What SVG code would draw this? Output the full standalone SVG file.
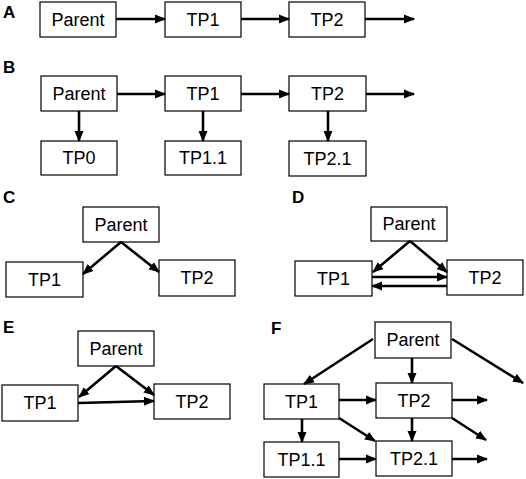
<svg xmlns="http://www.w3.org/2000/svg" width="526" height="479" viewBox="0 0 526 479">
<style>
.box{fill:#fff;stroke:#000;stroke-width:1.2}
.t{font-family:"Liberation Sans",Arial,sans-serif;font-size:18px;fill:#000;text-anchor:middle}
.lbl{font-family:"Liberation Sans",Arial,sans-serif;font-size:17px;font-weight:bold;fill:#000}
.c{stroke:#000;stroke-width:2.6;fill:none;marker-end:url(#ah)}
</style>
<defs>
<marker id="ah" markerUnits="userSpaceOnUse" markerWidth="11" markerHeight="10" refX="10" refY="5" orient="auto">
<path d="M0,0.5 L11,5 L0,9.5 z" fill="#000"/>
</marker>
</defs>
<rect width="526" height="479" fill="#fff"/>
<g id="labels">
<text class="lbl" x="3" y="18">A</text>
<text class="lbl" x="3" y="73">B</text>
<text class="lbl" x="3" y="203">C</text>
<text class="lbl" x="292" y="203">D</text>
<text class="lbl" x="3" y="333">E</text>
<text class="lbl" x="271" y="334">F</text>
</g>
<!-- Panel A -->
<g id="A-parent"><rect class="box" x="40" y="2" width="76" height="35"/><text class="t" x="78" y="26">Parent</text></g>
<g id="A-tp1"><rect class="box" x="165" y="2" width="76" height="35"/><text class="t" x="203" y="26">TP1</text></g>
<g id="A-tp2"><rect class="box" x="289" y="2" width="76" height="35"/><text class="t" x="327" y="26">TP2</text></g>
<!-- Panel B -->
<g id="B-parent"><rect class="box" x="41" y="76" width="76" height="35"/><text class="t" x="79" y="100">Parent</text></g>
<g id="B-tp1"><rect class="box" x="165" y="76" width="76" height="35"/><text class="t" x="203" y="100">TP1</text></g>
<g id="B-tp2"><rect class="box" x="289" y="76" width="77" height="35"/><text class="t" x="327.5" y="100">TP2</text></g>
<g id="B-tp0"><rect class="box" x="41" y="141" width="76" height="34"/><text class="t" x="79" y="164">TP0</text></g>
<g id="B-tp11"><rect class="box" x="165" y="141" width="76" height="34"/><text class="t" x="203" y="164">TP1.1</text></g>
<g id="B-tp21"><rect class="box" x="289" y="141" width="77" height="35"/><text class="t" x="327.5" y="165">TP2.1</text></g>
<!-- Panel C -->
<g id="C-parent"><rect class="box" x="83" y="207" width="76" height="35"/><text class="t" x="121" y="231">Parent</text></g>
<g id="C-tp1"><rect class="box" x="6" y="262" width="77" height="35"/><text class="t" x="44.5" y="286">TP1</text></g>
<g id="C-tp2"><rect class="box" x="159" y="260" width="76" height="36"/><text class="t" x="197" y="284">TP2</text></g>
<!-- Panel D -->
<g id="D-parent"><rect class="box" x="371" y="207" width="76" height="34"/><text class="t" x="409" y="230">Parent</text></g>
<g id="D-tp1"><rect class="box" x="295" y="261" width="77" height="35"/><text class="t" x="333.5" y="285">TP1</text></g>
<g id="D-tp2"><rect class="box" x="447" y="260" width="76" height="35"/><text class="t" x="485" y="284">TP2</text></g>
<!-- Panel E -->
<g id="E-parent"><rect class="box" x="78" y="331" width="76" height="35"/><text class="t" x="116" y="355">Parent</text></g>
<g id="E-tp1"><rect class="box" x="2" y="385" width="76" height="36"/><text class="t" x="40" y="409">TP1</text></g>
<g id="E-tp2"><rect class="box" x="154" y="384" width="76" height="35"/><text class="t" x="192" y="408">TP2</text></g>
<!-- Panel F -->
<g id="F-parent"><rect class="box" x="375" y="322" width="76" height="36"/><text class="t" x="413" y="346">Parent</text></g>
<g id="F-tp1"><rect class="box" x="264" y="384" width="75" height="35"/><text class="t" x="301.5" y="408">TP1</text></g>
<g id="F-tp2"><rect class="box" x="376" y="383" width="76" height="35"/><text class="t" x="414" y="407">TP2</text></g>
<g id="F-tp11"><rect class="box" x="264" y="442" width="75" height="35"/><text class="t" x="301.5" y="466">TP1.1</text></g>
<g id="F-tp21"><rect class="box" x="376" y="441" width="76" height="35"/><text class="t" x="414" y="465">TP2.1</text></g>
<g id="connectors">
<line class="c" x1="116" y1="19" x2="165" y2="19"/>
<line class="c" x1="241" y1="19" x2="289" y2="19"/>
<line class="c" x1="365" y1="19" x2="414" y2="19"/>
<line class="c" x1="117" y1="94" x2="165" y2="94"/>
<line class="c" x1="241" y1="94" x2="289" y2="94"/>
<line class="c" x1="366" y1="94" x2="414" y2="94"/>
<line class="c" x1="79" y1="111" x2="79" y2="141"/>
<line class="c" x1="203" y1="111" x2="203" y2="141"/>
<line class="c" x1="328" y1="111" x2="328" y2="141"/>
<line class="c" x1="121" y1="242" x2="83" y2="274"/>
<line class="c" x1="121" y1="242" x2="159" y2="272"/>
<line class="c" x1="410" y1="241" x2="373" y2="272"/>
<line class="c" x1="410" y1="241" x2="447" y2="272"/>
<line class="c" x1="372" y1="277" x2="447" y2="277"/>
<line class="c" x1="447" y1="286" x2="372" y2="286"/>
<line class="c" x1="116" y1="366" x2="79" y2="397"/>
<line class="c" x1="116" y1="366" x2="154" y2="395"/>
<line class="c" x1="78" y1="403" x2="154" y2="401"/>
<line class="c" x1="373" y1="339" x2="304" y2="384"/>
<line class="c" x1="412" y1="358" x2="412" y2="383"/>
<line class="c" x1="452" y1="339" x2="523" y2="383"/>
<line class="c" x1="339" y1="400" x2="376" y2="400"/>
<line class="c" x1="452" y1="400" x2="487" y2="400"/>
<line class="c" x1="302" y1="419" x2="302" y2="442"/>
<line class="c" x1="339" y1="418" x2="375" y2="441"/>
<line class="c" x1="412" y1="418" x2="412" y2="441"/>
<line class="c" x1="452" y1="418" x2="486" y2="440"/>
<line class="c" x1="339" y1="459" x2="376" y2="459"/>
<line class="c" x1="452" y1="459" x2="487" y2="459"/>
</g>
</svg>
